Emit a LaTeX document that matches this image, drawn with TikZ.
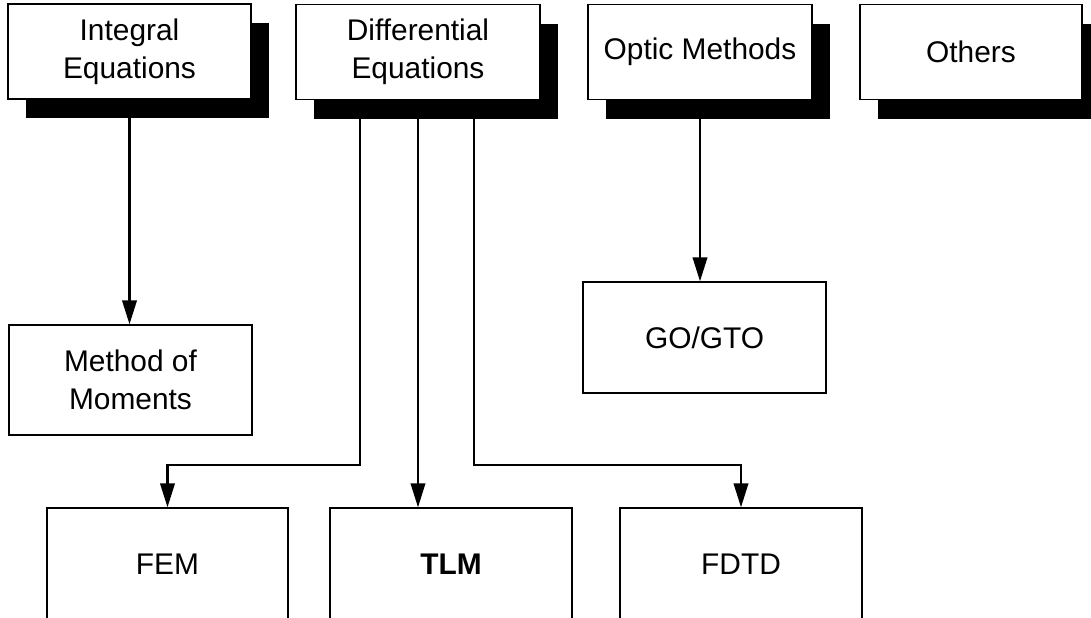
\documentclass[tikz,border=0pt]{standalone}
\usepackage{fontspec}
\setmainfont{Liberation Sans}
\usetikzlibrary{calc, shadows, arrows.meta}

\begin{document}
\begin{tikzpicture}[
    caja/.style={draw, line width=0.8pt, fill=white, align=center, inner sep=0pt,
        minimum height=1.9cm, font=\fontsize{17}{21.5}\selectfont},
    sombra/.style={drop shadow={shadow xshift=0.36cm, shadow yshift=-0.38cm, fill=black, opacity=1}},
    flecha/.style={-{Triangle[length=4.8mm, width=2.9mm]}, line width=1.3pt}
]
    % Fijar los límites del gráfico
    \useasboundingbox (0,0) rectangle (21.82,-12.34);

    % Cajas superiores con sombra
    \node[caja, sombra, minimum width=4.86cm] (IE) at (2.59,-1.03) {Integral\\Equations};
    \node[caja, sombra, minimum width=4.88cm] (DE) at (8.36,-1.04) {Differential\\Equations};
    \node[caja, sombra, minimum width=4.48cm] (OM) at (14.0,-1.04) {Optic Methods};
    \node[caja, sombra, minimum width=4.44cm] (OT) at (19.42,-1.04) {Others};

    % Cajas intermedias
    \node[caja, minimum width=4.86cm, minimum height=2.2cm] (MoM) at (2.61,-7.6) {Method of\\Moments};
    \node[caja, minimum width=4.86cm, minimum height=2.22cm] (GO) at (14.09,-6.75) {GO/GTO};

    % Cajas inferiores (cortadas por el borde)
    \node[caja, minimum width=4.82cm, minimum height=2.24cm] (FEM) at (3.35,-11.28) {FEM};
    \node[caja, minimum width=4.84cm, minimum height=2.24cm] (TLM) at (9.02,-11.28) {\textbf{TLM}};
    \node[caja, minimum width=4.84cm, minimum height=2.24cm] (FDTD) at (14.82,-11.28) {FDTD};

    % Puntos de quiebre de las flechas
    \coordinate (codoF) at (7.2,-9.3);
    \coordinate (codoD) at (9.48,-9.3);

    % Flechas
    \draw[flecha] (IE.south) -- (IE.south |- MoM.north);
    \draw[flecha] (OM.south) -- (OM.south |- GO.north);
    \draw[flecha] (codoF |- DE.south) -- (codoF) -| (FEM.north);
    \draw[flecha] (DE.south) -- (DE.south |- TLM.north);
    \draw[flecha] (codoD |- DE.south) -- (codoD) -| (FDTD.north);

\end{tikzpicture}
\end{document}
